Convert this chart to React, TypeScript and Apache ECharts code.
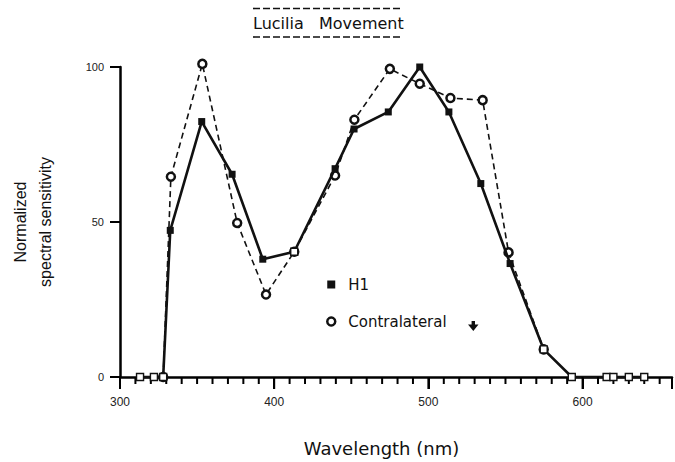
import React, { useEffect, useRef } from "react";
import * as echarts from "echarts";

// Wavelength (nm) / normalized sensitivity pairs
const h1Curve: [number, number][] = [
  [313, 0], [322, 0], [328, 0], [332.6, 47.3], [353, 82.4], [372.7, 65.4],
  [392.6, 38], [413, 40.4], [439.5, 67.2], [451.8, 80], [474, 85.5],
  [494.4, 100], [513.3, 85.5], [534, 62.4], [553, 36.6], [574.8, 8.9],
  [593, 0], [615.6, 0], [620, 0], [630, 0], [640, 0],
];

const contralateralCurve: [number, number][] = [
  [328, 0], [333, 64.6], [353.4, 101], [376, 49.7], [394.7, 26.6],
  [413, 40.4], [439.5, 65], [452, 83], [475, 99.4], [494.4, 94.6],
  [514.3, 90], [535.2, 89.3], [552, 40.2], [574.8, 8.9],
];

// Points common to both recordings (open squares)
const sharedPoints: [number, number][] = [
  [313, 0], [322, 0], [328, 0], [413, 40.4], [574.8, 8.9],
  [593, 0], [615.6, 0], [620, 0], [630, 0], [640, 0],
];

const xTickLabels = [300, 400, 500, 600];
const yTickLabels = [0, 50, 100];

const X_MIN = 300;
const X_MAX = 658;
const X_MINOR_STEP = 10;

const FONT = "'Liberation Sans', Arial, Helvetica, sans-serif";
const WIDE = "'DejaVu Sans', Verdana, sans-serif";

// Tick positions along the wavelength axis, one every 10 nm
const xTickValues: number[] = [];
for (let v = X_MIN; v <= X_MAX; v += X_MINOR_STEP) xTickValues.push(v);

export default function App() {
  const ref = useRef<HTMLDivElement>(null);

  useEffect(() => {
    if (!ref.current) return;
    const chart = echarts.init(ref.current, undefined, { renderer: "svg" });
    chart.setOption({
      animation: false,
      textStyle: { fontFamily: FONT },
      grid: { left: 116, right: 2, top: 67, bottom: 80 },
      xAxis: {
        type: "value",
        min: X_MIN,
        max: X_MAX,
        interval: 100,
        name: "Wavelength (nm)",
        nameLocation: "middle",
        nameGap: 62,
        nameTextStyle: {
          fontSize: 18,
          color: "#111",
          fontFamily: WIDE,
          padding: [0, 29, 0, 0],
        },
        axisLine: { show: true, lineStyle: { color: "#000", width: 2.5 } },
        axisTick: { show: true, length: 12, lineStyle: { color: "#000", width: 2 } },
        splitLine: { show: false },
        axisLabel: {
          margin: 19,
          fontSize: 12,
          color: "#222",
          fontFamily: FONT,
          formatter: (v: number) => (xTickLabels.includes(v) ? String(v) : ""),
        },
      },
      yAxis: {
        type: "value",
        min: 0,
        max: 100,
        interval: 50,
        name: "Normalized\nspectral sensitivity",
        nameLocation: "middle",
        nameRotate: 90,
        nameGap: 62,
        nameTextStyle: {
          fontSize: 16,
          lineHeight: 25,
          color: "#111",
          fontFamily: FONT,
        },
        axisLine: { show: true, lineStyle: { color: "#000", width: 2.5 } },
        axisTick: { show: true, length: 10, lineStyle: { color: "#000", width: 2 } },
        splitLine: { show: false },
        axisLabel: {
          margin: 16,
          fontSize: 11,
          color: "#222",
          fontFamily: FONT,
          formatter: (v: number) => (yTickLabels.includes(v) ? String(v) : ""),
        },
      },
      legend: {
        orient: "vertical",
        left: 321,
        top: 272,
        itemWidth: 8,
        itemHeight: 8,
        itemGap: 22,
        selectedMode: false,
        textStyle: {
          fontSize: 15,
          color: "#111",
          fontFamily: WIDE,
          padding: [0, 0, 0, 8],
        },
        data: [
          { name: "H1", icon: "rect", itemStyle: { color: "#111", borderWidth: 0 } },
          {
            name: "Contralateral",
            icon: "circle",
            itemStyle: { color: "#fff", borderColor: "#111", borderWidth: 2.5 },
          },
        ],
      },
      graphic: [
        {
          type: "text",
          left: 253,
          top: 15,
          style: {
            text: "Lucilia   Movement",
            font: `16px ${WIDE}`,
            fill: "#111",
          },
        },
        {
          type: "line",
          shape: { x1: 253, y1: 8.5, x2: 402, y2: 8.5 },
          style: { stroke: "#111", lineWidth: 1.6, lineDash: [7, 3] },
        },
        {
          type: "line",
          shape: { x1: 253, y1: 37, x2: 402, y2: 37 },
          style: { stroke: "#111", lineWidth: 1.6, lineDash: [7, 3] },
        },
        {
          type: "polygon",
          shape: {
            points: [
              [471.6, 321], [475, 321], [475, 324.5], [478.5, 324.5],
              [473.3, 331], [468, 324.5], [471.6, 324.5],
            ],
          },
          style: { fill: "#111" },
        },
      ],
      series: [
        {
          // wavelength axis ticks: long every 100 nm, short every 10 nm
          name: "xTicks",
          type: "custom",
          silent: true,
          clip: false,
          z: 5,
          data: xTickValues.map((v) => [v, 0]),
          renderItem: (_params: any, api: any) => {
            const v = api.value(0);
            const p = api.coord([v, 0]);
            const major = v % 100 === 0;
            return {
              type: "line",
              shape: { x1: p[0], y1: p[1], x2: p[0], y2: p[1] + (major ? 12 : 7) },
              style: { stroke: "#000", lineWidth: 2 },
            };
          },
        },
        {
          // sensitivity axis ticks
          name: "yTicks",
          type: "custom",
          silent: true,
          clip: false,
          z: 5,
          data: yTickLabels.map((v) => [X_MIN, v]),
          renderItem: (_params: any, api: any) => {
            const p = api.coord([api.value(0), api.value(1)]);
            return {
              type: "line",
              shape: { x1: p[0] - 10, y1: p[1], x2: p[0], y2: p[1] },
              style: { stroke: "#000", lineWidth: 2 },
            };
          },
        },
        {
          name: "Contralateral",
          type: "line",
          data: contralateralCurve,
          clip: false,
          z: 2,
          symbol: "circle",
          symbolSize: 8,
          lineStyle: { color: "#111", width: 1.6, type: [6, 4] },
          itemStyle: { color: "#fff", borderColor: "#111", borderWidth: 2.5 },
        },
        {
          name: "H1",
          type: "line",
          data: h1Curve,
          clip: false,
          z: 3,
          symbol: "rect",
          symbolSize: 7,
          lineStyle: { color: "#111", width: 2.6 },
          itemStyle: { color: "#111", borderWidth: 0 },
        },
        {
          name: "shared",
          type: "scatter",
          data: sharedPoints,
          clip: false,
          z: 6,
          symbol: "rect",
          symbolSize: 7,
          itemStyle: { color: "#fff", borderColor: "#111", borderWidth: 1.4, opacity: 1 },
        },
      ],
    });
    return () => chart.dispose();
  }, []);

  return (
    <div
      ref={ref}
      style={{ width: 675, height: 462, position: "absolute", left: 0, top: 0, background: "#fff" }}
    />
  );
}
